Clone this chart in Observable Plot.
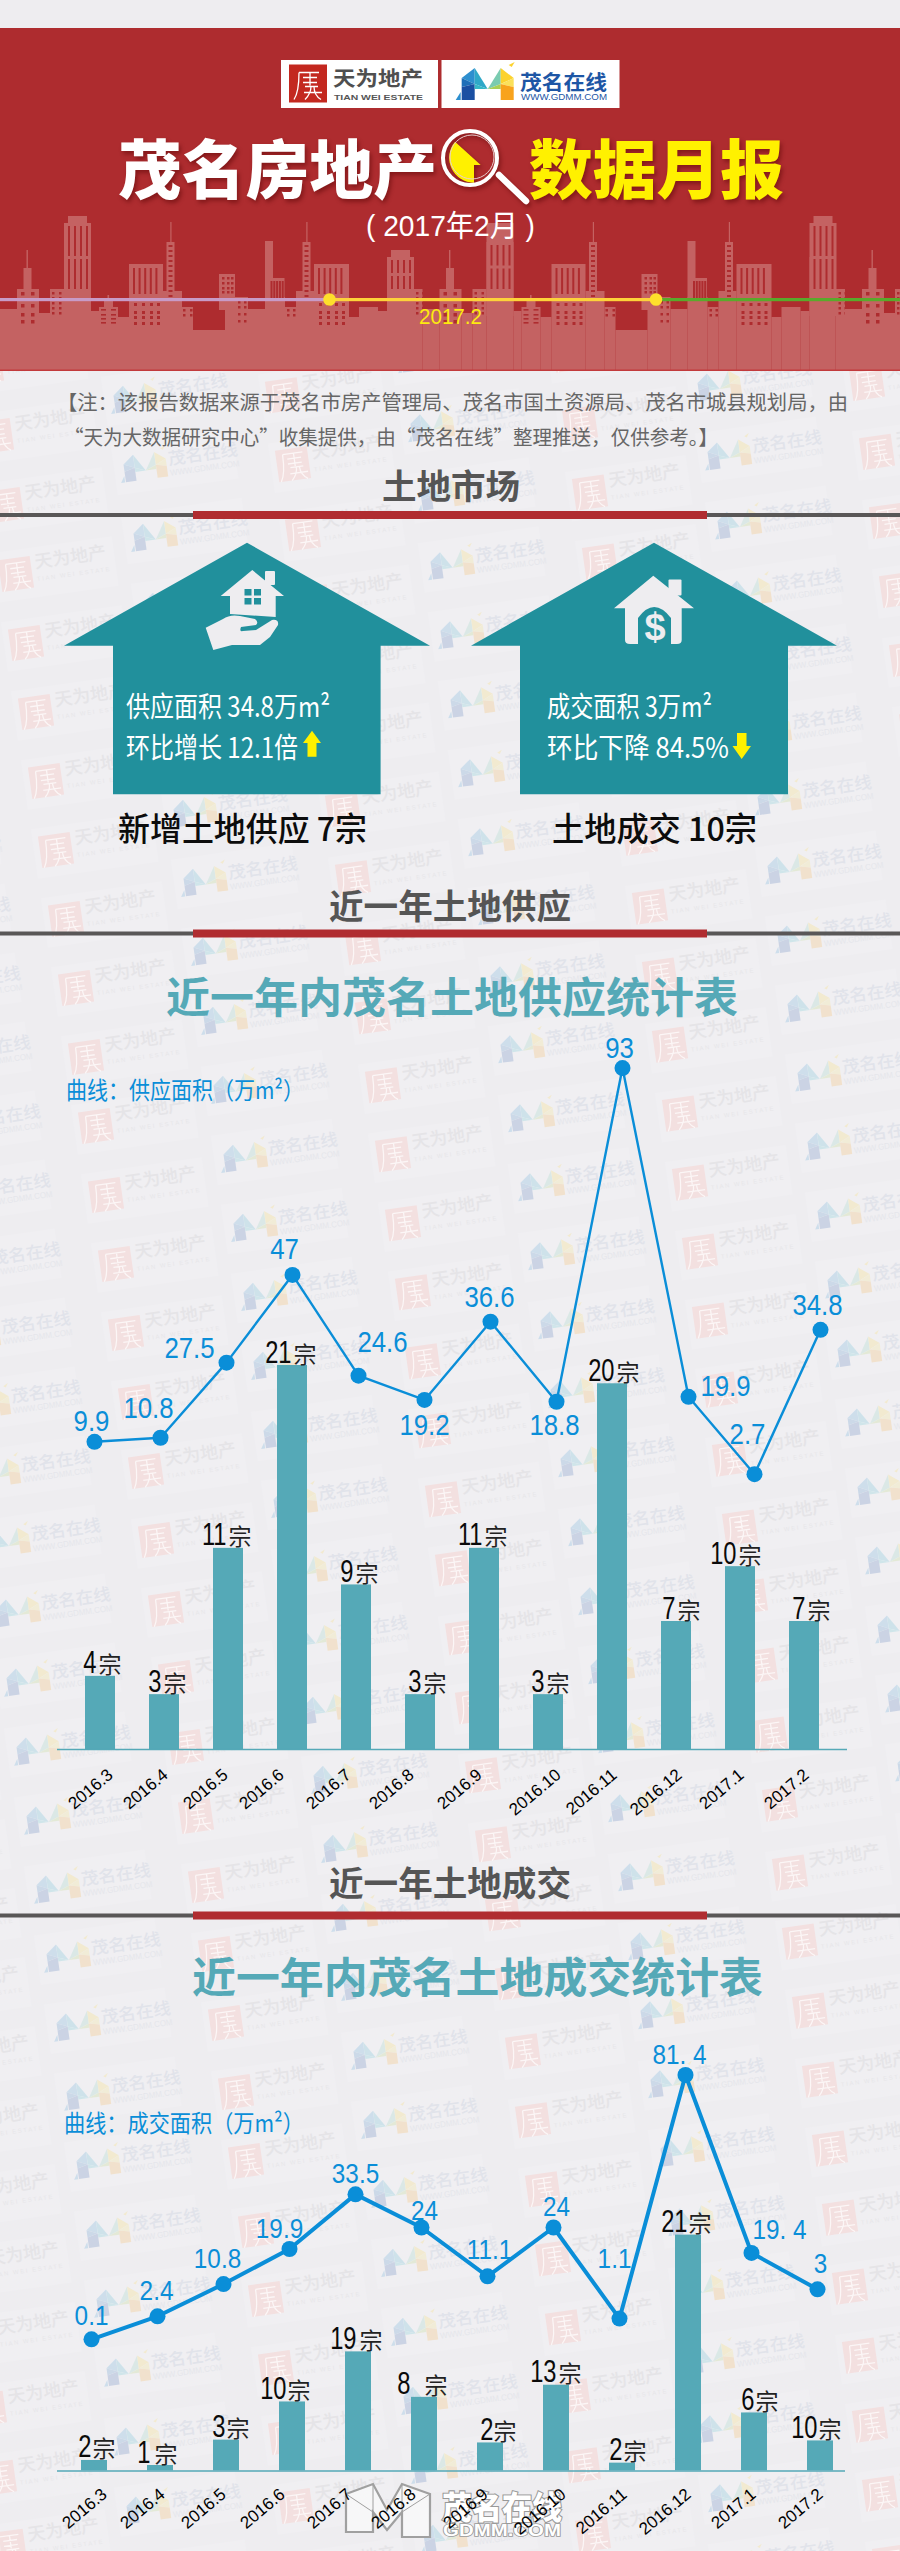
<!DOCTYPE html>
<html lang="zh">
<head>
<meta charset="utf-8">
<script src="https://cdn.jsdelivr.net/npm/d3@7"></script>
<script src="https://cdn.jsdelivr.net/npm/@observablehq/plot@0.6"></script>
<style>
html,body{margin:0;padding:0;background:#eeedf0}
#page{position:relative;width:900px;height:2551px;overflow:hidden}
#page>svg{position:absolute;left:0;top:0;margin:0}
.panel{position:absolute;left:0;width:900px}
.panel svg{display:block;background:transparent;overflow:visible}
</style>
</head>
<body>
<div id="page"></div>
<script>
// ---------- data ----------
const months = ["2016.3","2016.4","2016.5","2016.6","2016.7","2016.8","2016.9","2016.10","2016.11","2016.12","2017.1","2017.2"];
const supplyCounts = [4,3,11,21,9,3,11,3,20,7,10,7];
const supplyArea = [9.9,10.8,27.5,47,24.6,19.2,36.6,18.8,93,19.9,2.7,34.8];
const dealCounts = ["2","1","3","10","19","8","2","13","2","21","6","10"];
// the deal bars and curve are not drawn in proportion to their printed labels: these are the drawn heights
const dealBarsAsDrawn = [0.93,0.48,2.74,6.14,10.6,6.55,2.49,7.63,0.69,21,5.16,2.67];
const dealAreaLabels = ["0.1","2.4","10.8","19.9","33.5","24","11.1","24","1.1","81. 4","19. 4","3"];
const dealAreaAsDrawn = [0.1,7.2,17.1,27.9,44.7,34.5,19.5,34.5,6.5,81.4,26.7,15.5];
// label nudges, layout only
const supplyLabelShift = [[-3,-20],[-12,-29],[-37,-14],[-8,-26],[24,-33],[0,25],[-1,-24],[-2,24],[-3,-20],[37,-10],[-7,-40],[-3,-24]];
const dealLabelShift = [[0,-23],[-1,-25],[-6,-25],[-10,-20],[0,-20],[3,-16],[2,-26],[3,-20],[-5,-59],[-6,-20],[28,-23],[3,-25]];
const supplyNumShift = [-4,-3,-2,-1,-3,1,-2,-4,2,-1,-4,1];
const dealNumShift = [-3,-10,-1,-6,-2,-14,3,0,0,-1,0,-3];
const dealUnitShift = [-2,-6,0,-5,1,0,3,2,1,0,1,-2];
const supplyTickShift = [10,1,-3,-11,-8,-9,-5,10,2,3,1,2];
const dealTickShift = [10,2,-3,-10,-9,-11,-5,7,2,0,-1,0];

// ---------- colours and fonts ----------
const BG="#eeedf0", RED="#ae2c2f", TEAL="#21909c", BAR="#55a9b7", BLUE="#0a8ed8";
const CITY="#c46262";
const LATIN='"Liberation Sans",sans-serif';
const CJK='"Noto Sans CJK SC","Noto Sans",sans-serif';

// ---------- decorative helpers ----------
const mPolys=[["#2d8fcf","0,10 13,0 13,16"],["#1f6fb8","0,10 13,16 0,19"],["#1a4fa2","0,19 13,16 13,32 0,32"],
["#2fa8c8","13,0 26,21 13,16"],["#36b8c6","13,16 26,21 13,21"],["#7acbb0","26,21 39,0 39,16"],["#a9cf56","26,21 39,16 39,21"],
["#fcd22e","39,0 52,10 39,16"],["#fbe05a","52,10 39,16 52,19"],["#f8a31c","39,16 52,19 52,32 39,32"]];
const mLogo=()=>mPolys.map(([f,p])=>`<polygon fill="${f}" points="${p}"/>`).join("")
 +`<polygon fill="#2d8fcf" points="-6,32 -1,24 -1,32"/><polygon fill="#fcd22e" points="47,-3 53,-6 50,-1"/>`;
const sealGlyph=`<path d="M-9,-11H11M-9,-11C-9,0-10,10-14,16M-5,-6H9M2,-11V2M-5,-1H9M-3,3H10M-4,9H14M3,3C3,8 1,12-3,16M6,3C6,9 8,13 13,16" fill="none" stroke="#fff" stroke-width="1.3"/>`;

function watermark(){
  const unit=`<g id="u"><rect x="-22" y="-24" width="122" height="50" fill="#f0eff2"/>
  <rect x="-16" y="-16" width="32" height="32" fill="#f3e0e0"/><g opacity=".7">${sealGlyph}</g>
  <text x="20" y="-3" font-family='${CJK}' font-size="18" font-weight="500" fill="#e5e4e7" textLength="72" lengthAdjust="spacingAndGlyphs">天为地产</text>
  <text x="20" y="10" font-family='Liberation Sans' font-size="6" fill="#e7e6e9" letter-spacing="1.6">TIAN WEI ESTATE</text></g>
  <g id="v"><rect x="112" y="-44" width="122" height="50" fill="#f0eff2"/>
  <g transform="translate(122,-32) scale(.82)" opacity=".17">${mLogo()}</g>
  <text x="167" y="-17" font-family='${CJK}' font-size="17" font-weight="500" fill="#e1e3ea" textLength="70" lengthAdjust="spacingAndGlyphs">茂名在线</text>
  <text x="167" y="-6" font-family='Liberation Sans' font-size="8.5" fill="#e5e6eb" textLength="70" lengthAdjust="spacingAndGlyphs">WWW.GDMM.COM</text></g>`;
  let out="";
  for(let r=-40;r<40;r++)for(let c=-2;c<5;c++){
    const x=96+c*297+r*10,y=1126+c*28.3+r*69;
    if(y<-60||y>2620||x<-260||x>960)continue;
    out+=`<g transform="translate(${x.toFixed(1)},${y.toFixed(1)}) rotate(-8)"><use href="#u"/><use href="#v"/></g>`;
  }
  const svg=`<svg xmlns="http://www.w3.org/2000/svg" width="900" height="2551"><rect width="900" height="2551" fill="${BG}"/><defs>${unit}</defs>${out}</svg>`;
  return `url("data:image/svg+xml;charset=utf-8,${encodeURIComponent(svg)}")`;
}

function city(){
  const skyline=[[0,17,309],[17,39,289],[39,50,313],[50,64,289],[64,91,223],[91,99,311],[99,118,307],[118,129,317],[129,163,264],[163,182,291],[182,193,307],[193,225,330],[225,248,297],[248,265,309],[265,285,297],[285,296,307],[296,314,291],[314,349,264],[349,359,317],[359,378,307],[378,387,311],[387,413,257],[413,422.5,289]];
  const R=(x,y,w,h,f=CITY)=>`<rect x="${x}" y="${y}" width="${w}" height="${h}" fill="${f}"/>`;
  const grid=(xs,ys,w,h)=>xs.flatMap(x=>ys.map(y=>R(x,y,w,h,RED))).join("");
  const stripes=(x0,n,step,y,h)=>d3.range(n).map(i=>R(x0+i*step,y,2,h,RED)).join("");
  const towerB=(x,top)=>R(x+4,top,19,9)+R(x,top+7,27,309-top)+stripes(x+4,4,6,top+10,(289-top-13)/2)+stripes(x+4,4,6,top+13+(289-top-13)/2,(289-top-13)/2);
  const unit=(ox,bTop,iTop)=>{
    let s=skyline.map(([a,b,t])=>R(a,t,b-a,371-t)).join("");
    s+=R(23.5,268,8,30)+R(26.5,250,1.4,20);
    s+=towerB(64,bTop)+towerB(387,iTop);
    s+=R(104,300,9,10)+R(107.5,295,1.6,6);
    s+=R(219,274,16,36)+R(265,241,8,60)+R(268.5,278,16,25);
    s+=R(166.5,242,8,50)+R(170.3,222,1.2,22)+R(302.5,242,8,50)+R(306.3,222,1.2,22);
    s+=grid([21,31],[292,304,313,320],3.5,3.5);
    s+=grid([52,59],[292,297,302,307,312],2.5,2.5);
    s+=grid([101,111],[309,314,318,322],5,1.6);
    s+=stripes(133,5,5.6,268,26)+stripes(318,5,5.6,268,26);
    s+=grid([134,142,150,157],[303,311,316,322],3,3)+grid([319,327,335,342],[303,311,316,322],3,3);
    s+=grid([183,190],[309,314],2.5,2.5)+grid([287,293],[309,314],2.5,2.5);
    s+=grid([222,227,231],[277,282,287,291],2.5,2.5);
    s+=grid([238,244],[301,306,313,320],2.5,2.5);
    s+=grid([416,422],[292,297,302,307,312],2.5,2.5);
    s+=stripes(270.5,5,2.8,281,20);
    s+=grid([168.5],d3.range(245,296,5),4,2)+grid([304.5],d3.range(245,296,5),4,2);
    return `<g transform="translate(${ox},0)">${s}</g>`;
  };
  return unit(0,216,250)+unit(422.5,235,216)+unit(845,216,250);
}

function deco(){
  const T=(x,y,txt,o={})=>{
    const a=Object.entries({"font-family":CJK,"dominant-baseline":"central",...o}).map(([k,v])=>`${k}='${v}'`).join(" ");
    return `<text x="${x}" y="${y}" ${a}>${txt}</text>`;
  };
  const fit=(x0,x1,y,txt,o)=>T(x0,y,txt,{textLength:x1-x0,lengthAdjust:"spacingAndGlyphs",...o});
  const section=(txt,y0,yc,yl)=>fit(...y0,yc,txt,{"font-size":34,"font-weight":700,fill:"#555"})
    +`<rect x="0" y="${yl-2}" width="900" height="4" fill="#595757"/><rect x="193" y="${yl-4}" width="514" height="8" fill="#b02c30"/>`;
  const house=(ax,body)=>`<polygon fill="${TEAL}" points="${ax},542.7 ${ax+183},645.7 ${body[1]},645.7 ${body[1]},794.3 ${body[0]},794.3 ${body[0]},645.7 ${ax-183},645.7"/>`;
  let s=`<rect width="900" height="28" fill="${BG}"/><rect y="28" width="900" height="343" fill="${RED}"/>`;
  s+=city();
  s+=`<rect y="369.5" width="900" height="1.5" fill="#c23a3c"/>`;
  // logos
  s+=`<rect x="281" y="60" width="157" height="48" fill="#fff"/><rect x="441.5" y="60" width="178" height="48" fill="#fff"/>`;
  s+=`<rect x="289" y="64.5" width="38" height="38" fill="#c3281f"/><g transform="translate(308,83.5)">${sealGlyph}</g>`;
  s+=fit(333,423,77.5,"天为地产",{"font-size":20,"font-weight":700,fill:"#4f4f4f"});
  s+=fit(334,423,97.5,"TIAN WEI ESTATE",{"font-size":7.5,"font-family":"Liberation Sans","font-weight":700,fill:"#555"});
  s+=`<g transform="translate(461.7,68)">${mLogo()}</g>`;
  s+=fit(520,607,81,"茂名在线",{"font-size":20,"font-weight":700,fill:"#1d56a5"});
  s+=fit(521,607,96,"WWW.GDMM.COM",{"font-size":9.5,"font-family":"Liberation Sans",fill:"#1d56a5"});
  // main title
  const shadow="filter:drop-shadow(2px 3px 2px rgba(80,0,0,.45))";
  s+=`<g style="${shadow}">`+fit(118,437,164.5,"茂名房地产",{"font-size":64,"font-weight":900,fill:"#fff"})
    +fit(529,784,164.5,"数据月报",{"font-size":64,"font-weight":900,fill:"#fff100"})
    +`<path d="M455,141.7L480.7,165H474V182.7A25,25 0 0 1 455,141.7Z" fill="#fff100"/>`
    +`<circle cx="470" cy="158" r="27" fill="none" stroke="#fff" stroke-width="4"/><circle cx="472" cy="157" r="22" fill="none" stroke="#e8cfcf" stroke-width="1"/>`
    +`<path d="M499,175L526,201" stroke="#fff" stroke-width="6.5" stroke-linecap="round"/></g>`;
  s+=fit(366,535,225.5,"( 2017年2月 )",{"font-size":30,"font-family":LATIN+','+CJK,fill:"#fff"});
  // timeline
  s+=`<rect y="298" width="330" height="3.2" fill="#c89bc7"/><rect x="330" y="298" width="326" height="3.2" fill="#fdd23a"/><rect x="656" y="298" width="244" height="3.2" fill="#5aa92b"/>`;
  s+=`<circle cx="329.5" cy="299.5" r="6.3" fill="#fedf2b"/><circle cx="656" cy="299.5" r="6.3" fill="#fedf2b"/>`;
  s+=fit(419,482,316,"2017.2",{"font-size":22,"font-family":"Liberation Sans",fill:"#fde910"});
  // note
  const note={"font-size":20,fill:"#666"};
  s+=fit(57,848,401,"【注：该报告数据来源于茂名市房产管理局、茂名市国土资源局、茂名市城县规划局，由",note);
  s+=fit(64,718,436,"“天为大数据研究中心”收集提供，由“茂名在线”整理推送，仅供参考。】",note);
  // sections
  s+=section("土地市场",[382,520],484.5,515);
  s+=section("近一年土地供应",[329,571],904,933.5);
  s+=section("近一年土地成交",[329,571],1881,1915.5);
  // houses
  s+=house(247,[113,380.6])+house(654,[520,788]);
  const bgf=BG;
  s+=`<g fill="${bgf}"><path d="M252.3,570L284,596H275.7V617L230,614V596H220.7Z"/><rect x="265" y="571" width="10" height="14" rx="1"/>
  <path d="M205.7,627.7L223,619Q230,614 240,616L255,619Q259,622 256,625L241,627Q239,632 243,631L256,630L272,620Q279,619 278,625L270,637L260,645L232,645L213.3,650Z"/></g>
  <g fill="${TEAL}"><rect x="244.5" y="589" width="7" height="6.5"/><rect x="254" y="589" width="7" height="6.5"/><rect x="244.5" y="598" width="7" height="6.5"/><rect x="254" y="598" width="7" height="6.5"/></g>`;
  s+=`<g fill="${bgf}"><path d="M653.3,575.7L694,608.3H681.7V640Q681.7,644 677,644H630Q625,644 625,640V608.3H614Z"/><rect x="668.5" y="579.5" width="13" height="16" rx="1"/></g>
  <path d="M638,644V618Q654,596 671,618V644Z" fill="${TEAL}"/>`;
  s+=T(655,627,"$",{"font-size":38,"font-weight":700,"font-family":"Liberation Sans",fill:bgf,"text-anchor":"middle"});
  const inHouse={"font-size":28,fill:"#fff"};
  s+=fit(126,330,705,"供应面积 34.8万m²",inHouse)+fit(126,298,746,"环比增长 12.1倍",inHouse);
  s+=fit(547,712,705,"成交面积 3万m²",inHouse)+fit(547,729,746,"环比下降 84.5%",inHouse);
  s+=`<polygon fill="#fff100" points="312,730.7 321,743 316.5,743 316.5,756.7 307.5,756.7 307.5,743 303,743"/>`;
  s+=`<polygon fill="#fff100" points="741.7,759 751,746 746.5,746 746.5,733 737,733 737,746 732.5,746"/>`;
  const below={"font-size":33,"font-weight":500,fill:"#0c0c0c"};
  s+=fit(118,367,827,"新增土地供应 7宗",below)+fit(552,757,827,"土地成交 10宗",below);
  // chart titles and legends
  const tt={"font-size":42,"font-weight":700,fill:"#55a9b7"};
  s+=fit(166,738,994,"近一年内茂名土地供应统计表",tt)+fit(192,763,1974,"近一年内茂名土地成交统计表",tt);
  const lg={"font-size":24,fill:BLUE};
  s+=fit(66,304,1088,"曲线：供应面积（万m²）",lg)+fit(64,304,2121,"曲线：成交面积（万m²）",lg);
  // stamp at the foot
  const st={"font-size":32,"font-weight":900,fill:"#fff",stroke:"#999","stroke-width":2.2,"paint-order":"stroke"};
  s+=`<g fill="#f7f7f8" stroke="#a0a0a0" stroke-width="2.2"><polygon points="346,2532 346,2494 373,2484 387,2510 402,2484 430,2494 430,2537 402,2537 402,2512 387,2530 373,2512 373,2532"/><path d="M346,2494L373,2512M373,2484V2512M402,2484V2512M430,2494L402,2512" fill="none" stroke-width="1"/></g>`;
  s+=fit(442,562,2505,"茂名在线",st);
  s+=fit(443,561,2530,"GDMM.COM",{...st,"font-size":17,"font-family":"Liberation Sans","stroke-width":1.6});
  const d=document.createElement("div");
  d.innerHTML=`<svg xmlns="http://www.w3.org/2000/svg" width="900" height="2551" viewBox="0 0 900 2551">${s}</svg>`;
  return d.firstChild;
}

// ---------- charts ----------
const page=document.getElementById("page");
function mount(top,node){const d=document.createElement("div");d.className="panel";d.style.top=top+"px";d.append(node);page.append(d);return node;}
// no condensed face is installed, so the numerals are narrowed once they are measurable
function condense(svg,ratio){
  svg.querySelectorAll('g[aria-label="text"] text').forEach(t=>{
    if(!/\d/.test(t.textContent)||/^20\d\d\./.test(t.textContent))return;
    t.setAttribute("textLength",(t.getComputedTextLength()*ratio).toFixed(1));
    t.setAttribute("lengthAdjust","spacingAndGlyphs");
  });
}

function barsChart({height,base,scaleH,yMax,values,labels,numShift,unitShift,tickShift,tickDy,range,inner,ruleLeft,ruleRight}){
  const rows=months.map((m,i)=>({m,v:values[i],n:String(labels[i]),i}));
  const labelMarks=rows.flatMap(r=>[
    Plot.text([r],{x:"m",y:"v",text:"n",textAnchor:"end",lineAnchor:"bottom",dx:numShift[r.i],dy:-3,fontSize:32,fontFamily:LATIN,fill:"#0a0a0a"}),
    Plot.text([r],{x:"m",y:"v",text:()=>"宗",textAnchor:"start",lineAnchor:"bottom",dx:unitShift[r.i],dy:-3,fontSize:23,fontFamily:CJK,fill:"#222"}),
    Plot.text([r],{x:"m",y:()=>0,text:"m",textAnchor:"end",lineAnchor:"middle",rotate:-40,dx:tickShift[r.i],dy:tickDy,fontSize:17,fontFamily:LATIN,fill:"#000"})
  ]);
  return Plot.plot({width:900,height,marginTop:0,marginBottom:height-base,marginLeft:ruleLeft,marginRight:900-ruleRight,
    style:{background:"transparent",overflow:"visible"},
    x:{type:"band",domain:months,range,paddingInner:inner,paddingOuter:inner/2,axis:null},
    y:{domain:[0,yMax],range:[base,base-scaleH],axis:null},
    marks:[
      Plot.barY(rows,{x:"m",y:"v",fill:BAR}),
      Plot.ruleY([0],{stroke:BAR,strokeWidth:1.5}),
      ...labelMarks
    ]});
}

function lineChart({height,yRange,yMax,xRange,values,labels,shift,lw,fontSize}){
  const rows=months.map((m,i)=>({m,v:values[i],t:labels[i],i}));
  return Plot.plot({width:900,height,margin:0,style:{background:"transparent",overflow:"visible"},
    x:{type:"point",domain:months,range:xRange,padding:0,axis:null},
    y:{domain:[0,yMax],range:yRange,axis:null},
    marks:[
      Plot.line(rows,{x:"m",y:"v",stroke:BLUE,strokeWidth:lw,curve:"linear"}),
      Plot.dot(rows,{x:"m",y:"v",r:8,fill:BLUE,stroke:"none"}),
      ...rows.map(r=>Plot.text([r],{x:"m",y:"v",text:"t",dx:shift[r.i][0],dy:shift[r.i][1],fontSize,fontFamily:LATIN,fill:BLUE}))
    ]});
}

page.style.backgroundImage=watermark();
page.style.backgroundSize="900px 2551px";
page.append(deco());

// supply: baseline at page y=1749, 18.3 px per case
condense(mount(1320,barsChart({height:490,base:429,scaleH:384,yMax:21,values:supplyCounts,labels:supplyCounts,numShift:supplyNumShift,
  unitShift:supplyNumShift.map(d=>d+2),tickShift:supplyTickShift,tickDy:23,range:[62.25,841.05],inner:.538,ruleLeft:57,ruleRight:847})),.74);
condense(mount(1020,lineChart({height:480,yRange:[465.8,47.6],yMax:93,xRange:[92,821],values:supplyArea,labels:supplyArea.map(String),shift:supplyLabelShift,lw:2.4,fontSize:30})),.86);

// deals: baseline at page y=2470
condense(mount(2180,barsChart({height:371,base:290.4,scaleH:235.8,yMax:21,values:dealBarsAsDrawn,labels:dealCounts,numShift:dealNumShift,
  unitShift:dealUnitShift,tickShift:dealTickShift,tickDy:21,range:[59.85,855.45],inner:.6,ruleLeft:57,ruleRight:845})),.74);
condense(mount(2000,lineChart({height:400,yRange:[339.2,74.5],yMax:81.4,xRange:[87,820],values:dealAreaAsDrawn,labels:dealAreaLabels,shift:dealLabelShift,lw:4,fontSize:27})),.9);
</script>
</body>
</html>
